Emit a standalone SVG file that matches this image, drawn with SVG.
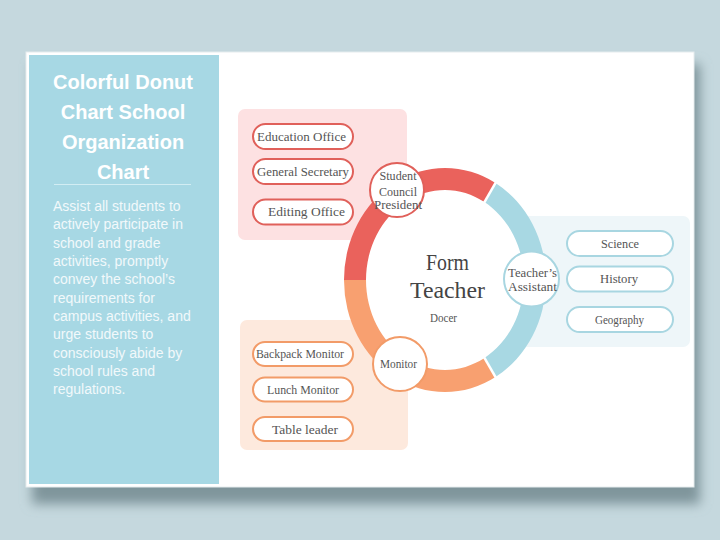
<svg xmlns="http://www.w3.org/2000/svg" width="720" height="540" viewBox="0 0 720 540">
<defs>
<filter id="sh" x="-10%" y="-10%" width="120%" height="130%"><feGaussianBlur stdDeviation="6"/></filter>
<style>
.t{font-family:"Liberation Serif","Times New Roman",serif;font-size:12px;fill:#555;text-anchor:middle}
.big{font-size:23px;fill:#444}
.pr{fill:#fff;stroke:#e0605a;stroke-width:2}
.pb{fill:#fff;stroke:#a8d6e1;stroke-width:2}
.po{fill:#fff;stroke:#f29b68;stroke-width:2}
.h{font-family:"Liberation Sans",Arial,sans-serif;font-weight:bold;font-size:20px;fill:#fff;text-anchor:middle}
.b{font-family:"Liberation Sans",Arial,sans-serif;font-size:14px;fill:#f2f9fb}
</style>
</defs>
<rect width="720" height="540" fill="#c5d8de"/>
<rect x="32" y="64" width="668" height="440" fill="#7f959b" filter="url(#sh)"/>
<rect x="26" y="52" width="668" height="435" fill="#fff" stroke="#e6ecee" stroke-width="1"/>
<rect x="29" y="55" width="190" height="429" fill="#a7d8e4"/>
<g id="title">
<text class="h" x="123" y="89">Colorful Donut</text>
<text class="h" x="123" y="119">Chart School</text>
<text class="h" x="123" y="149">Organization</text>
<text class="h" x="123" y="179">Chart</text>
<line x1="54" y1="184.5" x2="191" y2="184.5" stroke="#d2edf3" stroke-width="1"/>
</g>
<g id="description">
<text class="b" x="53" y="211">Assist all students to</text>
<text class="b" x="53" y="229.3">actively participate in</text>
<text class="b" x="53" y="247.7">school and grade</text>
<text class="b" x="53" y="266">activities, promptly</text>
<text class="b" x="53" y="284.3">convey the school’s</text>
<text class="b" x="53" y="302.7">requirements for</text>
<text class="b" x="53" y="321">campus activities, and</text>
<text class="b" x="53" y="339.3">urge students to</text>
<text class="b" x="53" y="357.7">consciously abide by</text>
<text class="b" x="53" y="376">school rules and</text>
<text class="b" x="53" y="394.3">regulations.</text>
</g>
<g id="panels">
<rect x="238" y="109" width="169" height="131" rx="7" fill="#fde1e2"/>
<rect x="240" y="320" width="168" height="130" rx="7" fill="#fde9dd"/>
<rect x="500" y="216" width="190" height="131" rx="7" fill="#eef6f9"/>
</g>
<g id="donut">
<ellipse cx="445" cy="280" rx="81" ry="92" fill="#fff"/>
<path d="M344,280 A101,112 0 0 1 495.5,183 L484.5,202.1 A79,90 0 0 0 366,280 Z" fill="#ea625c"/>
<path d="M495.5,183 A101,112 0 0 1 495.5,377 L484.5,357.9 A79,90 0 0 0 484.5,202.1 Z" fill="#a8d8e3"/>
<path d="M495.5,377 A101,112 0 0 1 344,280 L366,280 A79,90 0 0 0 484.5,357.9 Z" fill="#f8a070"/>
<line x1="497" y1="180.4" x2="483" y2="204.6" stroke="#fff" stroke-width="2.5"/>
<line x1="497" y1="379.6" x2="483" y2="355.4" stroke="#fff" stroke-width="2.5"/>
</g>
<g id="connectors"></g>
<g id="form-teacher">
<text class="t big" x="447.5" y="270" textLength="43" lengthAdjust="spacingAndGlyphs">Form</text>
<text class="t big" x="447.5" y="298" textLength="75" lengthAdjust="spacingAndGlyphs">Teacher</text>
<text class="t" x="443.5" y="322" textLength="27" lengthAdjust="spacingAndGlyphs">Docer</text>
</g>
<g id="student-council-president">
<circle cx="397" cy="190" r="27" class="pr"/>
<text class="t" x="398" y="180" textLength="37" lengthAdjust="spacingAndGlyphs">Student</text>
<text class="t" x="398" y="195.5" textLength="38" lengthAdjust="spacingAndGlyphs">Council</text>
<text class="t" x="398" y="209" textLength="48" lengthAdjust="spacingAndGlyphs">President</text>
</g>
<g id="teachers-assistant">
<circle cx="531.5" cy="279" r="27.5" class="pb"/>
<text class="t" x="532.5" y="277" textLength="49" lengthAdjust="spacingAndGlyphs">Teacher’s</text>
<text class="t" x="532.5" y="291" textLength="49" lengthAdjust="spacingAndGlyphs">Assistant</text>
</g>
<g id="monitor">
<circle cx="400" cy="364" r="27" class="po"/>
<text class="t" x="398.5" y="367.5" textLength="37" lengthAdjust="spacingAndGlyphs">Monitor</text>
</g>
<g id="education-office">
<rect x="253" y="124" width="100" height="25" rx="12.5" class="pr"/>
<text class="t" x="301.5" y="140.5" textLength="89" lengthAdjust="spacingAndGlyphs">Education Office</text>
</g>
<g id="general-secretary">
<rect x="253" y="159" width="100" height="25" rx="12.5" class="pr"/>
<text class="t" x="303" y="175.5" textLength="92" lengthAdjust="spacingAndGlyphs">General Secretary</text>
</g>
<g id="editing-office">
<rect x="253" y="199.5" width="100" height="25" rx="12.5" class="pr"/>
<text class="t" x="306.5" y="216" textLength="77" lengthAdjust="spacingAndGlyphs">Editing Office</text>
</g>
<g id="science">
<rect x="567" y="231" width="106" height="25" rx="12.5" class="pb"/>
<text class="t" x="620" y="247.5" textLength="38" lengthAdjust="spacingAndGlyphs">Science</text>
</g>
<g id="history">
<rect x="567" y="266.5" width="106" height="25" rx="12.5" class="pb"/>
<text class="t" x="619" y="283" textLength="38" lengthAdjust="spacingAndGlyphs">History</text>
</g>
<g id="geography">
<rect x="567" y="307" width="106" height="25" rx="12.5" class="pb"/>
<text class="t" x="619.5" y="324" textLength="49" lengthAdjust="spacingAndGlyphs">Geography</text>
</g>
<g id="backpack-monitor">
<rect x="253" y="342" width="100" height="24" rx="12" class="po"/>
<text class="t" x="300" y="358" textLength="88" lengthAdjust="spacingAndGlyphs">Backpack Monitor</text>
</g>
<g id="lunch-monitor">
<rect x="253" y="377.5" width="100" height="24" rx="12" class="po"/>
<text class="t" x="303" y="393.5" textLength="72" lengthAdjust="spacingAndGlyphs">Lunch Monitor</text>
</g>
<g id="table-leader">
<rect x="253" y="417" width="100" height="24" rx="12" class="po"/>
<text class="t" x="305" y="433.5" textLength="66" lengthAdjust="spacingAndGlyphs">Table leader</text>
</g>
</svg>
